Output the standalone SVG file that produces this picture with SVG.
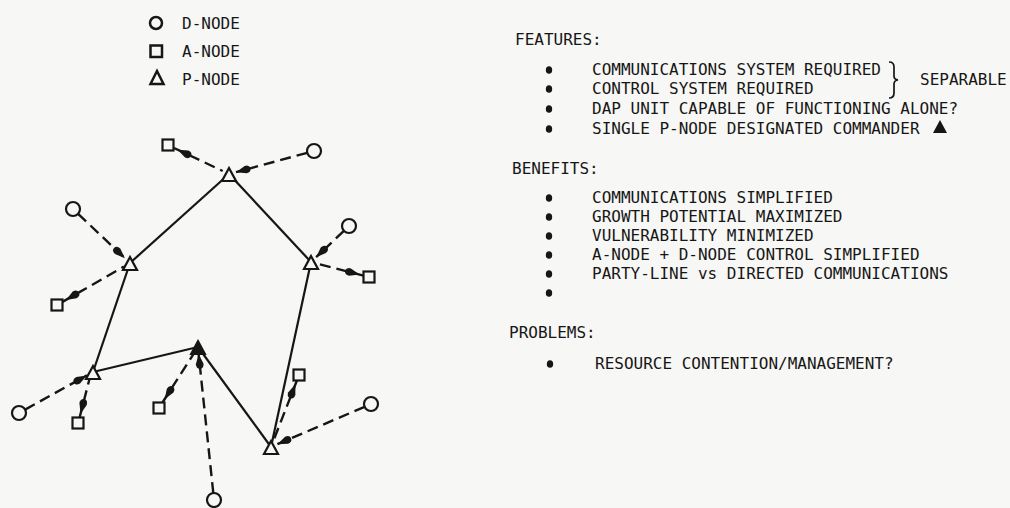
<svg xmlns="http://www.w3.org/2000/svg" width="1010" height="508" viewBox="0 0 1010 508">
  <defs>
    <style>
      .txt { font-family: "DejaVu Sans Mono", "Liberation Mono", monospace; font-size: 16px; fill: #161616; }
      .edge { stroke: #161616; stroke-width: 2.2; fill: none; }
      .link { stroke: #161616; stroke-width: 2.4; fill: none; stroke-dasharray: 11 6; }
      .node { stroke: #161616; stroke-width: 2.2; fill: #f7f7f5; }
      .key { stroke: #161616; stroke-width: 2.5; fill: #f7f7f5; }
      .cmd { fill: #161616; stroke: #161616; stroke-width: 2; }
      .bullet { fill: #161616; }
    </style>
    <!-- data arrow: tip sits on the end point -->
    <marker id="arrow" markerUnits="userSpaceOnUse" viewBox="0 0 15 9" refX="15" refY="4.5" markerWidth="15" markerHeight="9" orient="auto">
      <path d="M0,4.5 Q0.3,0.6 5,0.7 L15,4.5 L5,8.3 Q0.3,8.4 0,4.5 Z" fill="#161616"/>
    </marker>
    <!-- command arrow: drawn at the path start, reversed, tip held 4px off the A-node -->
    <marker id="cmdArrow" markerUnits="userSpaceOnUse" viewBox="0 0 19 9" refX="19" refY="4.5" markerWidth="19" markerHeight="9" orient="auto-start-reverse">
      <path d="M0,4.5 Q0.3,0.6 5,0.7 L15,4.5 L5,8.3 Q0.3,8.4 0,4.5 Z" fill="#161616"/>
    </marker>
    <path id="tri" d="M0,-8 L7,5 L-7,5 Z"/>
    <rect id="sq" x="-5.5" y="-5.5" width="11" height="11"/>
  </defs>

  <rect width="1010" height="508" fill="#f7f7f5"/>

  <!-- legend -->
  <g id="legend">
    <circle class="key" cx="156" cy="23" r="6"/>
    <text class="txt" x="182" y="29">D-NODE</text>
    <rect class="key" x="150.5" y="45.5" width="11.5" height="11.5"/>
    <text class="txt" x="182" y="57">A-NODE</text>
    <path class="key" d="M157,71 L163.5,84 L150.5,84 Z"/>
    <text class="txt" x="182" y="85">P-NODE</text>
  </g>

  <!-- connectors: solid P-node ring, dashed D->P and P->A links -->
  <g id="connectors">
    <line class="edge" x1="130" y1="263" x2="229" y2="174"/>
    <line class="edge" x1="229" y1="174" x2="311" y2="262"/>
    <line class="edge" x1="311" y1="262" x2="271" y2="447"/>
    <line class="edge" x1="130" y1="263" x2="93" y2="372"/>
    <line class="edge" x1="93" y1="372" x2="198" y2="347"/>
    <line class="edge" x1="198" y1="347" x2="271" y2="447"/>

    <!-- D-node reports into its P-node -->
    <line class="link" x1="307.2" y1="152.8" x2="236" y2="172.2" marker-end="url(#arrow)"/>
    <line class="link" x1="78.1" y1="213.8" x2="124.9" y2="258.2" marker-end="url(#arrow)"/>
    <line class="link" x1="343.9" y1="230.8" x2="316.1" y2="257.2" marker-end="url(#arrow)"/>
    <line class="link" x1="25.1" y1="409.6" x2="86.9" y2="375.4" marker-end="url(#arrow)"/>
    <line class="link" x1="213.3" y1="493" x2="198.6" y2="354" marker-end="url(#arrow)"/>
    <line class="link" x1="364.6" y1="406.8" x2="277.4" y2="444.2" marker-end="url(#arrow)"/>

    <!-- P-node commands its A-node -->
    <line class="link" x1="174" y1="148" x2="222.7" y2="171" marker-start="url(#cmdArrow)"/>
    <line class="link" x1="62.5" y1="301.9" x2="123.9" y2="266.5" marker-start="url(#cmdArrow)"/>
    <line class="link" x1="363.5" y1="275.6" x2="317.8" y2="263.8" marker-start="url(#cmdArrow)"/>
    <line class="link" x1="79.6" y1="417.5" x2="90" y2="377" marker-start="url(#cmdArrow)"/>
    <line class="link" x1="162.5" y1="402.5" x2="194.2" y2="352.9" marker-start="url(#cmdArrow)"/>
    <line class="link" x1="296.9" y1="380.5" x2="273.5" y2="440.5" marker-start="url(#cmdArrow)"/>
  </g>

  <!-- P-nodes -->
  <g id="p1"><use href="#tri" class="node" x="229" y="176"/></g>
  <g id="p2"><use href="#tri" class="node" x="130" y="265"/></g>
  <g id="p3"><use href="#tri" class="node" x="311" y="264"/></g>
  <g id="p4"><use href="#tri" class="node" x="93" y="374"/></g>
  <g id="p5-commander"><use href="#tri" class="cmd" x="198" y="349"/></g>
  <g id="p6"><use href="#tri" class="node" x="271" y="449"/></g>

  <!-- A-nodes -->
  <g id="a1"><use href="#sq" class="node" x="168" y="145"/></g>
  <g id="a2"><use href="#sq" class="node" x="57" y="305"/></g>
  <g id="a3"><use href="#sq" class="node" x="369" y="277"/></g>
  <g id="a4"><use href="#sq" class="node" x="78" y="423"/></g>
  <g id="a5"><use href="#sq" class="node" x="159" y="408"/></g>
  <g id="a6"><use href="#sq" class="node" x="299" y="375"/></g>

  <!-- D-nodes -->
  <g id="d1"><circle class="node" cx="314" cy="151" r="7"/></g>
  <g id="d2"><circle class="node" cx="73" cy="209" r="7"/></g>
  <g id="d3"><circle class="node" cx="349" cy="226" r="7"/></g>
  <g id="d4"><circle class="node" cx="19" cy="413" r="7"/></g>
  <g id="d5"><circle class="node" cx="214" cy="500" r="7"/></g>
  <g id="d6"><circle class="node" cx="371" cy="404" r="7"/></g>

  <!-- feature / benefit / problem lists -->
  <g id="features">
    <text class="txt" x="515" y="45">FEATURES:</text>
    <ellipse class="bullet" cx="549" cy="70" rx="3.2" ry="3.8"/>
    <ellipse class="bullet" cx="549" cy="89" rx="3.2" ry="3.8"/>
    <ellipse class="bullet" cx="549" cy="109" rx="3.2" ry="3.8"/>
    <ellipse class="bullet" cx="549" cy="129" rx="3.2" ry="3.8"/>
    <text class="txt" x="592" y="75">COMMUNICATIONS SYSTEM REQUIRED</text>
    <text class="txt" x="592" y="94">CONTROL SYSTEM REQUIRED</text>
    <text class="txt" x="592" y="114">DAP UNIT CAPABLE OF FUNCTIONING ALONE?</text>
    <text class="txt" x="592" y="134">SINGLE P-NODE DESIGNATED COMMANDER</text>
    <path d="M933,133 L940,120 L947,133 Z" fill="#161616"/>
    <path d="M889,62 Q894,62 894,67 L894,76 Q894,79.5 898,80 Q894,80.5 894,84 L894,93 Q894,98 889,98" fill="none" stroke="#161616" stroke-width="1.7"/>
    <text class="txt" x="920" y="85">SEPARABLE</text>
  </g>

  <g id="benefits">
    <text class="txt" x="512" y="174">BENEFITS:</text>
    <ellipse class="bullet" cx="549" cy="198" rx="3.2" ry="3.8"/>
    <ellipse class="bullet" cx="549" cy="217" rx="3.2" ry="3.8"/>
    <ellipse class="bullet" cx="549" cy="236" rx="3.2" ry="3.8"/>
    <ellipse class="bullet" cx="549" cy="255" rx="3.2" ry="3.8"/>
    <ellipse class="bullet" cx="549" cy="274" rx="3.2" ry="3.8"/>
    <ellipse class="bullet" cx="549" cy="293" rx="3.2" ry="3.8"/>
    <text class="txt" x="592" y="203">COMMUNICATIONS SIMPLIFIED</text>
    <text class="txt" x="592" y="222">GROWTH POTENTIAL MAXIMIZED</text>
    <text class="txt" x="592" y="241">VULNERABILITY MINIMIZED</text>
    <text class="txt" x="592" y="260">A-NODE + D-NODE CONTROL SIMPLIFIED</text>
    <text class="txt" x="592" y="279">PARTY-LINE vs DIRECTED COMMUNICATIONS</text>
  </g>

  <g id="problems">
    <text class="txt" x="509" y="338">PROBLEMS:</text>
    <ellipse class="bullet" cx="550" cy="364" rx="3.2" ry="3.8"/>
    <text class="txt" x="595" y="369">RESOURCE CONTENTION/MANAGEMENT?</text>
  </g>
</svg>
